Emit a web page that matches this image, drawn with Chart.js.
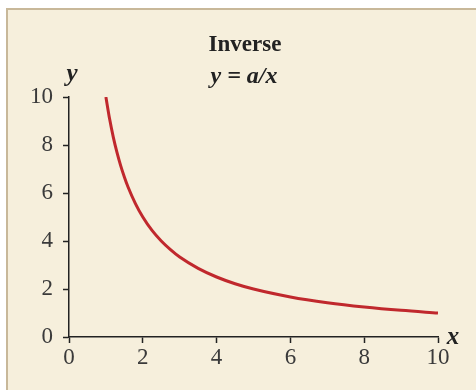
<!DOCTYPE html>
<html>
<head>
<meta charset="utf-8">
<script src="https://cdn.jsdelivr.net/npm/chart.js@4/dist/chart.umd.min.js"></script>
<style>
  html, body { margin: 0; padding: 0; background: #ffffff; }
  #wrap { width: 476px; height: 390px; position: relative; }
</style>
</head>
<body>
<div id="wrap"><canvas id="inverseChart"></canvas></div>
<script>
// y = a/x with a = 10
const xValues = [1, 1.1, 1.2, 1.3, 1.4, 1.5, 1.6, 1.8, 2, 2.25, 2.5, 2.75, 3, 3.5, 4, 4.5, 5, 6, 7, 8, 9, 10];
const yValues = [10, 9.09, 8.33, 7.69, 7.14, 6.67, 6.25, 5.56, 5, 4.44, 4, 3.64, 3.33, 2.86, 2.5, 2.22, 2, 1.67, 1.43, 1.25, 1.11, 1];
const xTicks = [0, 2, 4, 6, 8, 10];
const yTicks = [0, 2, 4, 6, 8, 10];
const titleLines = ["Inverse", "y = a/x"];

const serif = "'Liberation Serif', 'DejaVu Serif', serif";
const ink = "#222222";

// beige panel, title and axis names
const panelPlugin = {
  id: "panel",
  beforeDraw(chart) {
    const ctx = chart.ctx;
    ctx.save();
    ctx.fillStyle = "#f6efdc";
    ctx.fillRect(7, 9, chart.width - 7, chart.height - 9);
    ctx.fillStyle = "#c8b899";
    ctx.fillRect(6, 8, chart.width - 6, 2);
    ctx.fillRect(6, 8, 2, chart.height - 8);
    ctx.restore();
  },
  afterDraw(chart) {
    const ctx = chart.ctx;
    const { left, right, bottom, top } = chart.chartArea;
    ctx.save();
    ctx.fillStyle = ink;
    ctx.textAlign = "center";
    ctx.textBaseline = "middle";
    ctx.font = "bold 23px " + serif;
    ctx.fillText(titleLines[0], 245, 45);
    ctx.font = "italic bold 24px " + serif;
    ctx.fillText(titleLines[1], 244, 77);
    ctx.font = "italic bold 25px " + serif;
    ctx.fillText("y", left + 3, top - 22);
    ctx.fillText("x", right + 15, bottom + 1);
    ctx.restore();
  }
};

new Chart(document.getElementById("inverseChart"), {
  type: "line",
  data: {
    datasets: [
      {
        data: xValues.map((x, i) => ({ x: x, y: yValues[i] })),
        borderColor: "#c0282d",
        borderWidth: 3,
        pointRadius: 0,
        fill: false,
        cubicInterpolationMode: "monotone",
      },
    ],
  },
  options: {
    responsive: true,
    maintainAspectRatio: false,
    animation: false,
    layout: { padding: { left: 0, right: 38, top: 97, bottom: 0 } },
    plugins: { legend: { display: false }, tooltip: { enabled: false } },
    scales: {
      x: {
        type: "linear",
        min: 0,
        max: 10,
        afterBuildTicks: (scale) => { scale.ticks = xTicks.map((v) => ({ value: v })); },
        afterFit: (scale) => { scale.height = 53; },
        border: { display: true, color: ink, width: 1.5 },
        grid: { drawOnChartArea: false, drawTicks: true, tickLength: 6, tickColor: ink, tickWidth: 1.5 },
        ticks: { color: "#3a3a3a", font: { family: serif, size: 23 }, padding: 1, maxRotation: 0 },
      },
      y: {
        min: 0,
        max: 10,
        afterBuildTicks: (scale) => { scale.ticks = yTicks.map((v) => ({ value: v })); },
        afterFit: (scale) => { scale.width = 69; },
        border: { display: true, color: ink, width: 1.5 },
        grid: { drawOnChartArea: false, drawTicks: true, tickLength: 6, tickColor: ink, tickWidth: 1.5 },
        ticks: { color: "#3a3a3a", font: { family: serif, size: 23 }, padding: 10 },
      },
    },
  },
  plugins: [panelPlugin],
});
</script>
</body>
</html>
